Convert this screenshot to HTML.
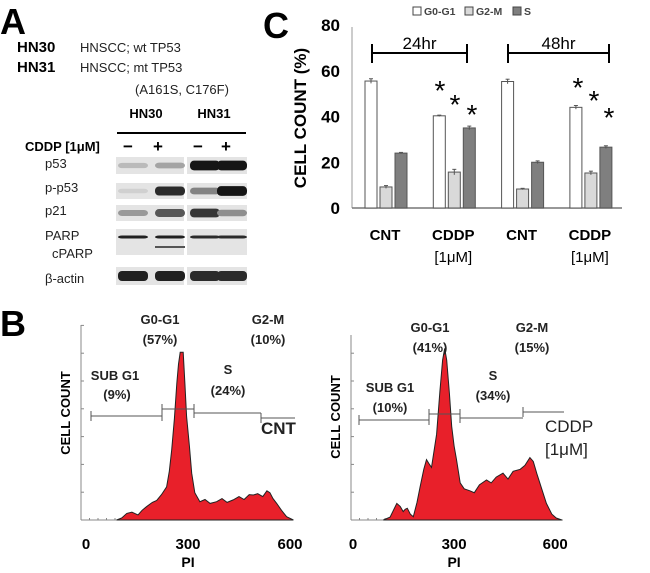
<!DOCTYPE html>
<html><head><meta charset="utf-8"><style>
body{margin:0;background:#fff;}
svg{display:block;font-family:"Liberation Sans",Arial,sans-serif;}
.b{font-weight:bold}
</style></head><body>
<svg id="fig" width="650" height="573" viewBox="0 0 650 573">
<g>
<text x="0" y="34" font-size="36" class="b">A</text>
<text x="17" y="52" font-size="15" class="b">HN30</text>
<text x="80" y="52" font-size="13" fill="#222">HNSCC; wt TP53</text>
<text x="17" y="72" font-size="15" class="b">HN31</text>
<text x="80" y="72" font-size="13" fill="#222">HNSCC; mt TP53</text>
<text x="135" y="94" font-size="13" fill="#222">(A161S, C176F)</text>
<text x="146" y="118" font-size="13" class="b" text-anchor="middle">HN30</text>
<text x="214" y="118" font-size="13" class="b" text-anchor="middle">HN31</text>
<line x1="117" y1="133" x2="246" y2="133" stroke="#000" stroke-width="2"/>
<text x="25" y="151" font-size="13" class="b">CDDP [1μM]</text>
<text x="128" y="152" font-size="17" class="b" text-anchor="middle">−</text>
<text x="158" y="152" font-size="17" class="b" text-anchor="middle">+</text>
<text x="198" y="152" font-size="17" class="b" text-anchor="middle">−</text>
<text x="226" y="152" font-size="17" class="b" text-anchor="middle">+</text>
<g font-size="13" fill="#222">
<text x="45" y="168">p53</text>
<text x="45" y="192">p-p53</text>
<text x="45" y="215">p21</text>
<text x="45" y="240">PARP</text>
<text x="52" y="258">cPARP</text>
<text x="45" y="283">β-actin</text>
</g>
<g id="blots"></g>
</g>
<g id="panelC">
<text x="263" y="38" font-size="36" class="b">C</text>
<text transform="translate(306,118) rotate(-90)" font-size="17" class="b" text-anchor="middle">CELL COUNT (%)</text>
</g>
<g id="panelB">
<text x="0" y="336" font-size="36" class="b">B</text>
</g>
<script>
const NS="http://www.w3.org/2000/svg";
function mk(p,t,a){const e=document.createElementNS(NS,t);for(const k in a)e.setAttribute(k,a[k]);p.appendChild(e);return e;}
const blots=document.getElementById('blots');
const rowsY=[[157,174],[183,199],[205,221],[229,255],[267,285]];
const panelsX=[[116,184],[187,247]];
const laneX=[133,170,205,232];
const bandP53=[0.2,0.3,0.95,0.95];
const bandPP53=[0.1,0.85,0.45,0.95];
const bandP21=[0.35,0.65,0.8,0.4];
const bandPARP=[0.9,0.9,0.85,0.85];
const bandActin=[0.9,0.9,0.85,0.85];
const bands=[bandP53,bandPP53,bandP21,bandPARP,bandActin];
rowsY.forEach((r,ri)=>{
  panelsX.forEach(px=>{const e=mk(blots,'rect',{x:px[0],y:r[0],width:px[1]-px[0],height:r[1]-r[0],fill:'#e4e4e4'});
  });
  bands[ri].forEach((v,li)=>{
    const cy=ri===3?r[0]+8:(r[0]+r[1])/2;
    const g=Math.round(230-v*220);
    const h=ri===3?3:(ri===4?10:4+v*6);
    const e=mk(blots,'rect',{x:laneX[li]-15,y:cy-h/2,width:30,height:h,rx:4,fill:`rgb(${g},${g},${g})`});
    
  });
});
{const e=mk(blots,'rect',{x:155,y:246,width:30,height:2,fill:'#555'});}

const groups=['CNT','CDDP','CNT','CDDP'];
const seriesNames=['G0-G1','G2-M','S'];
const g0g1=[55.5,40.3,55.3,44.0];
const g2m=[9.2,15.7,8.3,15.3];
const sPhase=[24.0,35.0,20.0,26.6];
const errs=[[1,0.3,1,0.8],[0.6,1.2,0.3,0.8],[0.3,0.8,0.6,0.6]];
const yTicks=[0,20,40,60,80];
const C=document.getElementById('panelC');
const yC=v=>208-v*2.2875;
const grpX=i=>365+i*68.3;
mk(C,'line',{x1:352,y1:27,x2:352,y2:208,stroke:'#999','stroke-width':1});
mk(C,'line',{x1:352,y1:208,x2:622,y2:208,stroke:'#777','stroke-width':1.5});
yTicks.forEach(t=>{const e=mk(C,'text',{x:340,y:yC(t)+6,'font-size':17,'font-weight':'bold','text-anchor':'end'});e.textContent=t;
 });
const fills=['#ffffff','#d9d9d9','#7f7f7f'];
[g0g1,g2m,sPhase].forEach((ser,si)=>{
 ser.forEach((v,gi)=>{
  const x=grpX(gi)+si*15;
  const b=mk(C,'rect',{x:x,y:yC(v),width:12,height:208-yC(v),fill:fills[si],stroke:'#555','stroke-width':1});
  
  
  const ee=errs[si][gi];
  mk(C,'line',{x1:x+6,x2:x+6,y1:yC(v+ee),y2:yC(v-ee),stroke:'#555'});
  mk(C,'line',{x1:x+4,x2:x+8,y1:yC(v+ee),y2:yC(v+ee),stroke:'#555'});
 });
});
groups.forEach((g,i)=>{const cx=grpX(i)+20;
 const t=mk(C,'text',{x:cx,y:240,'font-size':15,'font-weight':'bold','text-anchor':'middle'});t.textContent=g;
 
 if(g==='CDDP'){const u=mk(C,'text',{x:cx,y:262,'font-size':15,'text-anchor':'middle'});u.textContent='[1μM]';
 }
});
[[372,467,'24hr'],[508,609,'48hr']].forEach(b=>{
 mk(C,'line',{x1:b[0],x2:b[1],y1:53,y2:53,stroke:'#000','stroke-width':2});
 mk(C,'line',{x1:b[0],x2:b[0],y1:44,y2:63,stroke:'#000','stroke-width':2});
 mk(C,'line',{x1:b[1],x2:b[1],y1:44,y2:63,stroke:'#000','stroke-width':2});
 const t=mk(C,'text',{x:(b[0]+b[1])/2,y:49,'font-size':17,'text-anchor':'middle'});t.textContent=b[2];
 
});
[[440,100],[455,114],[472,124],[578,97],[594,110],[609,127]].forEach(s=>{
 const t=mk(C,'text',{x:s[0],y:s[1],'font-size':28,'text-anchor':'middle'});t.textContent='*';
 });
[[413,'G0-G1'],[465,'G2-M'],[513,'S']].forEach((l,i)=>{
 const r=mk(C,'rect',{x:l[0],y:7,width:8,height:8,fill:fills[i],stroke:'#444'});
 
 const t=mk(C,'text',{x:l[0]+11,y:15,'font-size':10.5,'font-weight':'bold',fill:'#444'});t.textContent=l[1];
 });

const piCNT=[90,105,120,135,153,165,178,195,208,222,237,245,252,260,267,272,277,286,291,296,304,311,320,335,350,365,384,400,415,433,450,465,480,492,505,520,532,541,550,561,575,590,610];
const cntCNT=[0,1,3.4,4,2.6,5,6.8,9,10,13,17,25,36,52,70,80,86,86,70,53,38,24,14,9.4,10.5,8.5,9.4,11,9,10.3,12,10.5,13,12.8,13.5,12,15,14,11,8.5,5,1.7,0];
const piCDDP=[90,110,120,130,140,149,155,161,170,179,190,199,210,218,225,233,240,248,258,266,272,278,286,293,300,307,318,330,347,360,375,396,410,425,445,460,475,496,510,525,535,545,560,574,590,603,620];
const cntCDDP=[0,1.5,5,8.5,7,4.3,5.5,6,3,1.7,9,17,26,31,29,27,35,44,66,82,88,82,65,48,38,31,19,16,15,14,18,20.5,19,22,24,21,25,26,28,32,30,24,16,8.5,3,1,0];
const xTicks=[0,300,600];
const B=document.getElementById('panelB');
function hist(o){
 const xs=p=>o.x0+p*o.k, ys=c=>o.base-c*1.95;
 const g=mk(B,'g',{});
 
 mk(g,'line',{x1:o.ax,y1:o.top,x2:o.ax,y2:o.base,stroke:'#888'});
 mk(g,'line',{x1:o.ax,y1:o.base,x2:o.xend,y2:o.base,stroke:'#888'});
 for(let y=o.base;y>=o.top;y-=27.8)mk(g,'line',{x1:o.ax,x2:o.ax+3,y1:y,y2:y,stroke:'#888'});
 for(let x=o.ax;x<=o.xend;x+=8.5)mk(g,'line',{x1:x,x2:x,y1:o.base,y2:o.base-2,stroke:'#888'});
 let d=`M${xs(o.pi[0])},${o.base}`;
 o.pi.forEach((p,i)=>{d+=`L${xs(p).toFixed(1)},${ys(o.c[i]).toFixed(1)}`;});
 d+=`L${xs(o.pi[o.pi.length-1])},${o.base}Z`;
 const h=mk(g,'path',{d:d,fill:'#e8202a',stroke:'#222','stroke-width':1});
 
 xTicks.forEach(t=>{const e=mk(g,'text',{x:xs(t),y:549,'font-size':15,'font-weight':'bold','text-anchor':'middle'});e.textContent=t;
  });
 const pl=mk(g,'text',{x:xs(300),y:567,'font-size':14,'font-weight':'bold','text-anchor':'middle'});pl.textContent='PI';
 
 const yl=mk(g,'text',{transform:`translate(${o.ax-11},${o.ylc}) rotate(-90)`,'font-size':13,'font-weight':'bold','text-anchor':'middle'});yl.textContent='CELL COUNT';
 
 o.gates.forEach(gt=>{mk(g,'line',{x1:gt[0],x2:gt[1],y1:gt[2],y2:gt[2],stroke:'#555'});
  mk(g,'line',{x1:gt[0],x2:gt[0],y1:gt[2]-5,y2:gt[2]+5,stroke:'#555'});
  if(gt[3])mk(g,'line',{x1:gt[1],x2:gt[1],y1:gt[2]-5,y2:gt[2]+5,stroke:'#555'});});
 o.labels.forEach(l=>{const t=mk(g,'text',{x:l[0],y:l[1],'font-size':l[3]||13,'font-weight':l[4]||'bold','text-anchor':l[5]||'middle',fill:'#222'});t.textContent=l[2];
  });
}
hist({name:'histogram-cnt',x0:86,k:0.34,ax:81,top:325,base:520,xend:293,ylc:413,pi:piCNT,c:cntCNT,
 gates:[[91,162,416,1],[162,194,409,1],[194,261,413,0],[261,295,418,0]],
 labels:[[160,324,'G0-G1'],[160,344,'(57%)'],[268,324,'G2-M'],[268,344,'(10%)'],[115,380,'SUB G1'],[117,399,'(9%)'],[228,374,'S'],[228,395,'(24%)'],[261,434,'CNT',17,'bold','start']]});
hist({name:'histogram-cddp',x0:353,k:0.337,ax:351,top:335,base:520,xend:563,ylc:417,pi:piCDDP,c:cntCDDP,
 gates:[[359,429,420,1],[429,460,414,1],[460,523,418,0],[523,564,412,0]],
 labels:[[430,332,'G0-G1'],[430,352,'(41%)'],[532,332,'G2-M'],[532,352,'(15%)'],[390,392,'SUB G1'],[390,412,'(10%)'],[493,380,'S'],[493,400,'(34%)'],[545,432,'CDDP',17,'normal','start'],[545,455,'[1μM]',17,'normal','start']]});
</script>
</svg>
</body></html>
